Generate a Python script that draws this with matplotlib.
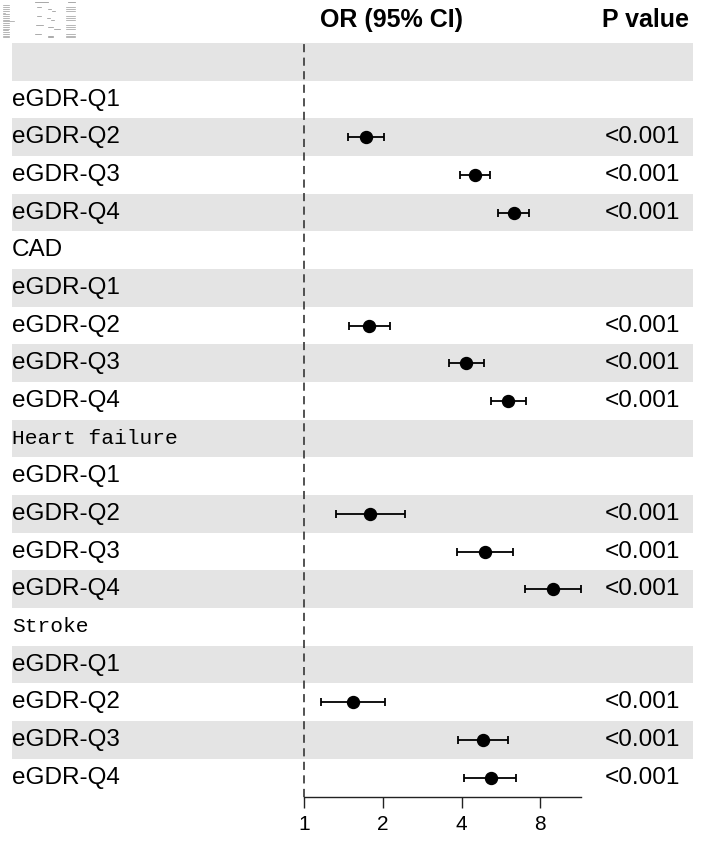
import numpy as np
import matplotlib
matplotlib.use("Agg")
import matplotlib.pyplot as plt
from matplotlib.ticker import FixedLocator, FixedFormatter, NullLocator

# ---- data ----
labels = ["", "eGDR-Q1", "eGDR-Q2", "eGDR-Q3", "eGDR-Q4",
          "CAD", "eGDR-Q1", "eGDR-Q2", "eGDR-Q3", "eGDR-Q4",
          "Heart failure", "eGDR-Q1", "eGDR-Q2", "eGDR-Q3", "eGDR-Q4",
          "Stroke", "eGDR-Q1", "eGDR-Q2", "eGDR-Q3", "eGDR-Q4"]
mono_rows = ["Heart failure", "Stroke"]
nan = np.nan
or_est = [nan, nan, 1.72, 4.49, 6.33,
          nan, nan, 1.77, 4.15, 6.00,
          nan, nan, 1.79, 4.93, 8.91,
          nan, nan, 1.54, 4.81, 5.16]
ci_low = [nan, nan, 1.47, 3.96, 5.53,
          nan, nan, 1.48, 3.57, 5.17,
          nan, nan, 1.32, 3.85, 6.99,
          nan, nan, 1.16, 3.86, 4.10]
ci_high = [nan, nan, 2.02, 5.12, 7.22,
           nan, nan, 2.13, 4.86, 7.03,
           nan, nan, 2.43, 6.29, 11.40,
           nan, nan, 2.04, 5.99, 6.48]
p_values = ["", "", "<0.001", "<0.001", "<0.001",
            "", "", "<0.001", "<0.001", "<0.001",
            "", "", "<0.001", "<0.001", "<0.001",
            "", "", "<0.001", "<0.001", "<0.001"]
xticks = [1, 2, 4, 8]
xtick_labels = ["1", "2", "4", "8"]

# ---- figure ----
W, H = 708, 842
fig = plt.figure(figsize=(W / 100, H / 100), dpi=100, facecolor="white")
sans = ["Liberation Sans", "DejaVu Sans"]
mono = ["Liberation Mono", "DejaVu Sans Mono"]

n = len(labels)
top_px, bot_px = 43, 796.5
ax_bottom = (H - bot_px) / H
ax_height = (bot_px - top_px) / H

# background axes for stripes and text columns
bg = fig.add_axes([12 / W, ax_bottom, (693 - 12) / W, ax_height])
bg.set_xlim(0, 1)
bg.set_ylim(n - 0.5, -0.5)
bg.axis("off")
for i in range(n):
    if i % 2 == 0:
        bg.axhspan(i - 0.5, i + 0.5, color="#e4e4e4", lw=0, zorder=0)
for i, lab in enumerate(labels):
    fam = mono if lab in mono_rows else sans
    size = 15.3 if lab in mono_rows else 17.5
    bg.text(0.0, i, lab, ha="left", va="center", fontsize=size, family=fam, color="black")
    if p_values[i]:
        bg.text((680 - 12) / (693 - 12), i, p_values[i], ha="right", va="center",
                fontsize=17.5, family=sans, color="black")

# forest axes
x0 = 304 / W
x1 = 580.7 / W
ax = fig.add_axes([x0, ax_bottom, x1 - x0, ax_height])
ax.patch.set_alpha(0)
ax.set_xscale("log", base=2)
ax.set_xlim(1, np.nanmax(ci_high))
ax.set_ylim(n - 0.5, -0.5)
y = np.arange(n)
est = np.array(or_est)
lo = np.array(ci_low)
hi = np.array(ci_high)
ax.errorbar(est, y, xerr=[est - lo, hi - est], fmt="o", color="black",
            ecolor="black", elinewidth=1.3, capsize=2.8, capthick=1.3,
            markersize=8.6, zorder=3)
ax.axvline(1, color="#444444", lw=1.3, ls=(0, (4.5, 3)), clip_on=False, zorder=2)
for s in ["top", "right", "left"]:
    ax.spines[s].set_visible(False)
ax.spines["bottom"].set_color("#222222")
ax.spines["bottom"].set_linewidth(1.0)
ax.xaxis.set_major_locator(FixedLocator(xticks))
ax.xaxis.set_major_formatter(FixedFormatter(xtick_labels))
ax.xaxis.set_minor_locator(NullLocator())
ax.yaxis.set_major_locator(NullLocator())
ax.yaxis.set_minor_locator(NullLocator())
ax.tick_params(axis="x", length=8, width=1.0, color="#222222", pad=5, labelsize=15)
for t in ax.get_xticklabels():
    t.set_family(sans)

# headers
fig.text(392 / W, 1 - 20 / H, "OR (95% CI)", ha="center", va="center",
         fontsize=18, fontweight="bold", family=sans)
fig.text(689 / W, 1 - 20 / H, "P value", ha="right", va="center",
         fontsize=18, fontweight="bold", family=sans)

# tiny faded thumbnail in the top-left corner (as in the reference)
th = fig.add_axes([1 / W, 1 - 41 / H, 76 / W, 40 / H])
th.set_xlim(0, 1)
th.set_ylim(n + 1, -1.5)
th.axis("off")
th_x = np.arange(n)
for i, lab in enumerate(labels):
    if lab:
        th.plot([0.02, 0.02 + 0.012 * len(lab)], [i, i], color="#9a9a9a", lw=0.5)
    if p_values[i]:
        th.plot([0.86, 0.97], [i, i], color="#9a9a9a", lw=0.5)
    if not np.isnan(or_est[i]):
        lx = lambda v: 0.42 + 0.1 * np.log2(v)
        th.plot([lx(ci_low[i]), lx(ci_high[i])], [i, i], color="#8a8a8a", lw=0.5)
th.plot([0.45, 0.62], [-1, -1], color="#9a9a9a", lw=0.6)
th.plot([0.88, 0.97], [-1, -1], color="#9a9a9a", lw=0.6)

fig.savefig("out.png", dpi=100, facecolor="white")
